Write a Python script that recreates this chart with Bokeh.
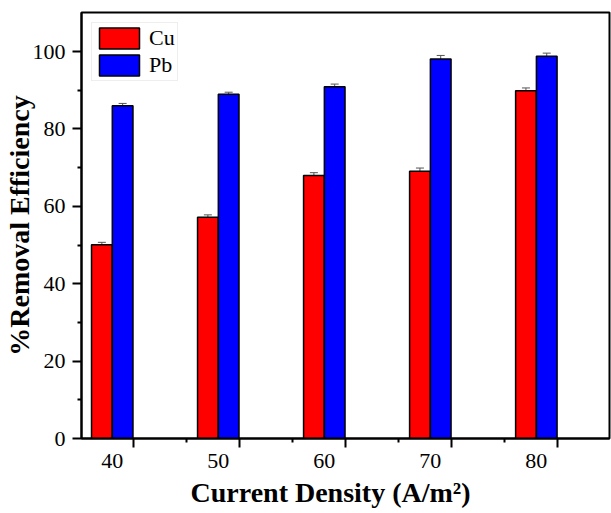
from bokeh.plotting import figure
from bokeh.models import LinearAxis, FixedTicker, Range1d, Whisker, ColumnDataSource, Title
from bokeh.embed import file_html
from bokeh.resources import INLINE

# Data
current_density = [40, 50, 60, 70, 80]
cu_removal = [50.1, 57.2, 68.0, 69.1, 89.9]
pb_removal = [86.0, 89.0, 90.9, 98.1, 98.8]
cu_err = [0.6, 0.6, 0.7, 0.8, 0.7]
pb_err = [0.6, 0.5, 0.7, 0.9, 0.8]
y_ticks = [0, 20, 40, 60, 80, 100]
y_minor = [10, 30, 50, 70, 90]

FONT = "Liberation Serif"
bw = 1.95
off = 0.98

cu_src = ColumnDataSource(dict(
    x=[c - off for c in current_density], top=cu_removal,
    upper=[v + e for v, e in zip(cu_removal, cu_err)],
    lower=[v - e for v, e in zip(cu_removal, cu_err)]))
pb_src = ColumnDataSource(dict(
    x=[c + off for c in current_density], top=pb_removal,
    upper=[v + e for v, e in zip(pb_removal, pb_err)],
    lower=[v - e for v, e in zip(pb_removal, pb_err)]))

p = figure(width=611, height=513, output_backend="svg", toolbar_location=None,
           x_range=Range1d(37.1, 86.9), y_range=Range1d(0, 110.1),
           min_border_left=81, min_border_top=12, min_border_right=2, min_border_bottom=75)
p.grid.visible = False
p.outline_line_color = "black"
p.outline_line_width = 2
p.background_fill_color = "white"
p.border_fill_color = "white"

p.vbar(x="x", top="top", width=bw, source=cu_src, fill_color="#FF0000",
       line_color="black", line_width=1.5, legend_label="Cu")
p.vbar(x="x", top="top", width=bw, source=pb_src, fill_color="#0000FF",
       line_color="black", line_width=1.5, legend_label="Pb")

for src in (cu_src, pb_src):
    w = Whisker(base="x", upper="upper", lower="lower", source=src,
                line_color="#555555", line_width=1)
    w.upper_head.size = 8
    w.lower_head.size = 8
    w.upper_head.line_color = "#555555"
    w.lower_head.line_color = "#555555"
    p.add_layout(w)

# x tick axis (tick marks only, no labels)
xt = p.xaxis[0]
xt.ticker = FixedTicker(ticks=[c + 2 for c in current_density],
                        minor_ticks=[c + 7 for c in current_density[:-1]])
xt.major_label_text_color = None
xt.major_label_standoff = 0
xt.axis_line_width = 2
xt.major_tick_line_width = 2
xt.minor_tick_line_width = 2
xt.major_tick_out = 9
xt.major_tick_in = 0
xt.minor_tick_out = 4
xt.minor_tick_in = 0

# x label axis
xl = LinearAxis(ticker=FixedTicker(ticks=current_density))
xl.axis_line_color = None
xl.major_tick_line_color = None
xl.minor_tick_line_color = None
xl.major_tick_out = 0
xl.major_tick_in = 0
xl.major_label_standoff = 6
xl.major_label_text_font = FONT
xl.major_label_text_font_size = "22px"
xl.major_label_text_color = "black"
p.add_layout(xl, "below")

xtitle = Title(text="Current Density (A/m²)", align="left", offset=109,
               text_font=FONT, text_font_style="bold", text_font_size="28px",
               text_color="black", standoff=8)
p.add_layout(xtitle, "below")

ya = p.yaxis[0]
ya.ticker = FixedTicker(ticks=y_ticks, minor_ticks=y_minor)
ya.axis_line_width = 2
ya.major_tick_line_width = 2
ya.minor_tick_line_width = 2
ya.major_tick_out = 9
ya.major_tick_in = 0
ya.minor_tick_out = 4
ya.minor_tick_in = 0
ya.major_label_standoff = 7
ya.major_label_text_font = FONT
ya.major_label_text_font_size = "22px"
ya.major_label_text_color = "black"
ya.axis_label = "%Removal Efficiency"
ya.axis_label_text_font = FONT
ya.axis_label_text_font_style = "bold"
ya.axis_label_text_font_size = "28px"
ya.axis_label_text_color = "black"
ya.axis_label_standoff = -5

lg = p.legend[0]
lg.location = "top_left"
lg.margin = 10
lg.padding = 2
lg.spacing = 1
lg.glyph_width = 50
lg.glyph_height = 26
lg.label_standoff = 5
lg.label_text_font = FONT
lg.label_text_font_size = "22px"
lg.label_text_color = "black"
lg.border_line_color = "#dddddd"
lg.border_line_width = 1

open("out.html", "w").write(file_html(p, INLINE))
